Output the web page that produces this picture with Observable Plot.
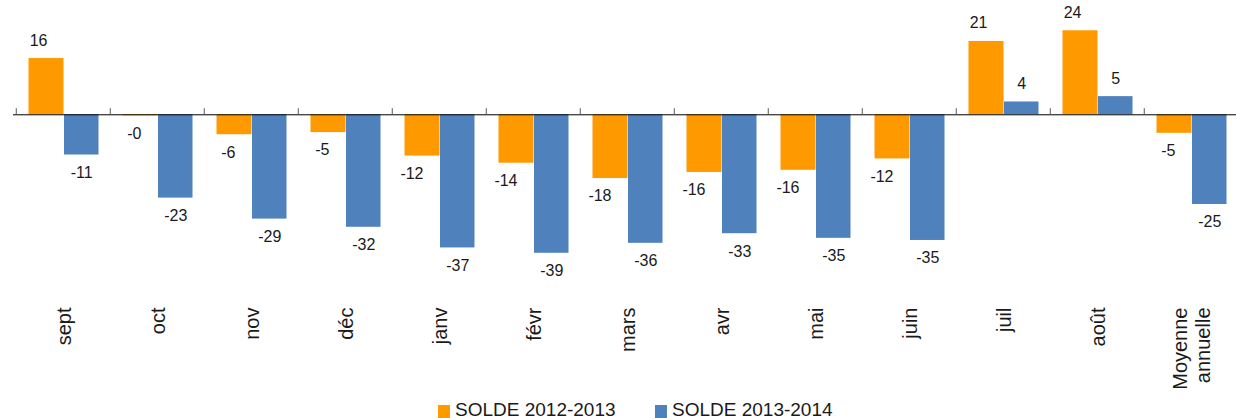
<!DOCTYPE html>
<html>
<head>
<meta charset="utf-8">
<script src="https://cdn.jsdelivr.net/npm/d3@7"></script>
<script src="https://cdn.jsdelivr.net/npm/@observablehq/plot@0.6"></script>
<style>
  html, body { margin: 0; padding: 0; background: #fff; }
  body { width: 1236px; height: 418px; overflow: hidden; font-family: "Liberation Sans", Arial, sans-serif; }
  #chart svg { display: block; }
  #legend { position: relative; height: 17px; font-size: 19px; line-height: 17px; color: #1a1a1a; white-space: nowrap; }
  .item { position: absolute; top: 0; display: flex; align-items: center; }
  .sw { width: 12px; height: 13px; margin-right: 5px; margin-top: 3px; }
</style>
</head>
<body>
<div id="chart"></div>
<div id="legend"></div>
<script>
const categories = ["sept", "oct", "nov", "déc", "janv", "févr", "mars", "avr", "mai", "juin", "juil", "août", "Moyenne\nannuelle"];
const seriesNames = ["SOLDE 2012-2013", "SOLDE 2013-2014"];
const solde2012_2013 = [15.8, -0.3, -5.6, -5.0, -11.6, -13.6, -17.9, -16.2, -15.6, -12.4, 20.6, 23.6, -5.2];
const solde2013_2014 = [-11.3, -23.4, -29.3, -31.6, -37.4, -38.9, -36.1, -33.4, -34.7, -35.3, 3.6, 5.1, -25.2];
const colors = ["#FF9900", "#4F81BD"];

const rows = [];
categories.forEach((c, i) => {
  rows.push({cat: c, series: seriesNames[0], value: solde2012_2013[i]});
  rows.push({cat: c, series: seriesNames[1], value: solde2013_2014[i]});
});
const fmt = v => (v < 0 ? "-" : "") + Math.abs(Math.round(v));
const s0 = rows.filter(d => d.series === seriesNames[0]);
const s1 = rows.filter(d => d.series === seriesNames[1]);

const textColor = "#1a1a1a";
const plot = Plot.plot({
  width: 1236,
  height: 401,
  marginTop: 0,
  marginLeft: 13,
  marginRight: 0,
  marginBottom: 126.5,
  x: {domain: categories, range: [13, 1241.5], padding: 0},
  y: {domain: [-45, 32.1], axis: null},
  style: {fontFamily: "'Liberation Sans', Arial, sans-serif", color: textColor, background: "#fff"},
  marks: [
    Plot.barY(s0, {x: "cat", y: "value", fill: colors[0], insetLeft: 12.5, insetRight: 46.5}),
    Plot.barY(s1, {x: "cat", y: "value", fill: colors[1], insetLeft: 48, insetRight: 11.5}),
    Plot.ruleY([0], {stroke: "#000", strokeWidth: 1}),
    Plot.ruleX(categories, {x: d => d, y1: 0, y2: 1.7, dx: -47.25, stroke: "#555"}),
    Plot.text(s0.filter(d => d.value >= 0), {x: "cat", y: "value", text: d => fmt(d.value), textAnchor: "end", dx: -16, dy: -13, lineAnchor: "bottom", fontSize: 16, fill: textColor}),
    Plot.text(s0.filter(d => d.value < 0), {x: "cat", y: "value", text: d => fmt(d.value), textAnchor: "end", dx: -16, dy: 11.5, lineAnchor: "top", fontSize: 16, fill: textColor}),
    Plot.text(s1.filter(d => d.value >= 0), {x: "cat", y: "value", text: d => fmt(d.value), dx: 18.25, dy: -13, lineAnchor: "bottom", fontSize: 16, fill: textColor}),
    Plot.text(s1.filter(d => d.value < 0), {x: "cat", y: "value", text: d => fmt(d.value), dx: 18.25, dy: 11.5, lineAnchor: "top", fontSize: 16, fill: textColor}),
    Plot.axisX({anchor: "bottom", tickRotate: -90, tickSize: 0, tickPadding: 32.5, fontSize: 20, textAnchor: "end", lineAnchor: "middle", lineHeight: 1.15, label: null, fill: textColor})
  ]
});
document.getElementById("chart").appendChild(plot);

const legend = document.getElementById("legend");
const lefts = [438, 655];
seriesNames.forEach((name, i) => {
  const item = document.createElement("div");
  item.className = "item";
  item.style.left = lefts[i] + "px";
  const sw = document.createElement("span");
  sw.className = "sw";
  sw.style.background = colors[i];
  const t = document.createElement("span");
  t.textContent = name;
  item.appendChild(sw);
  item.appendChild(t);
  legend.appendChild(item);
});
</script>
</body>
</html>
